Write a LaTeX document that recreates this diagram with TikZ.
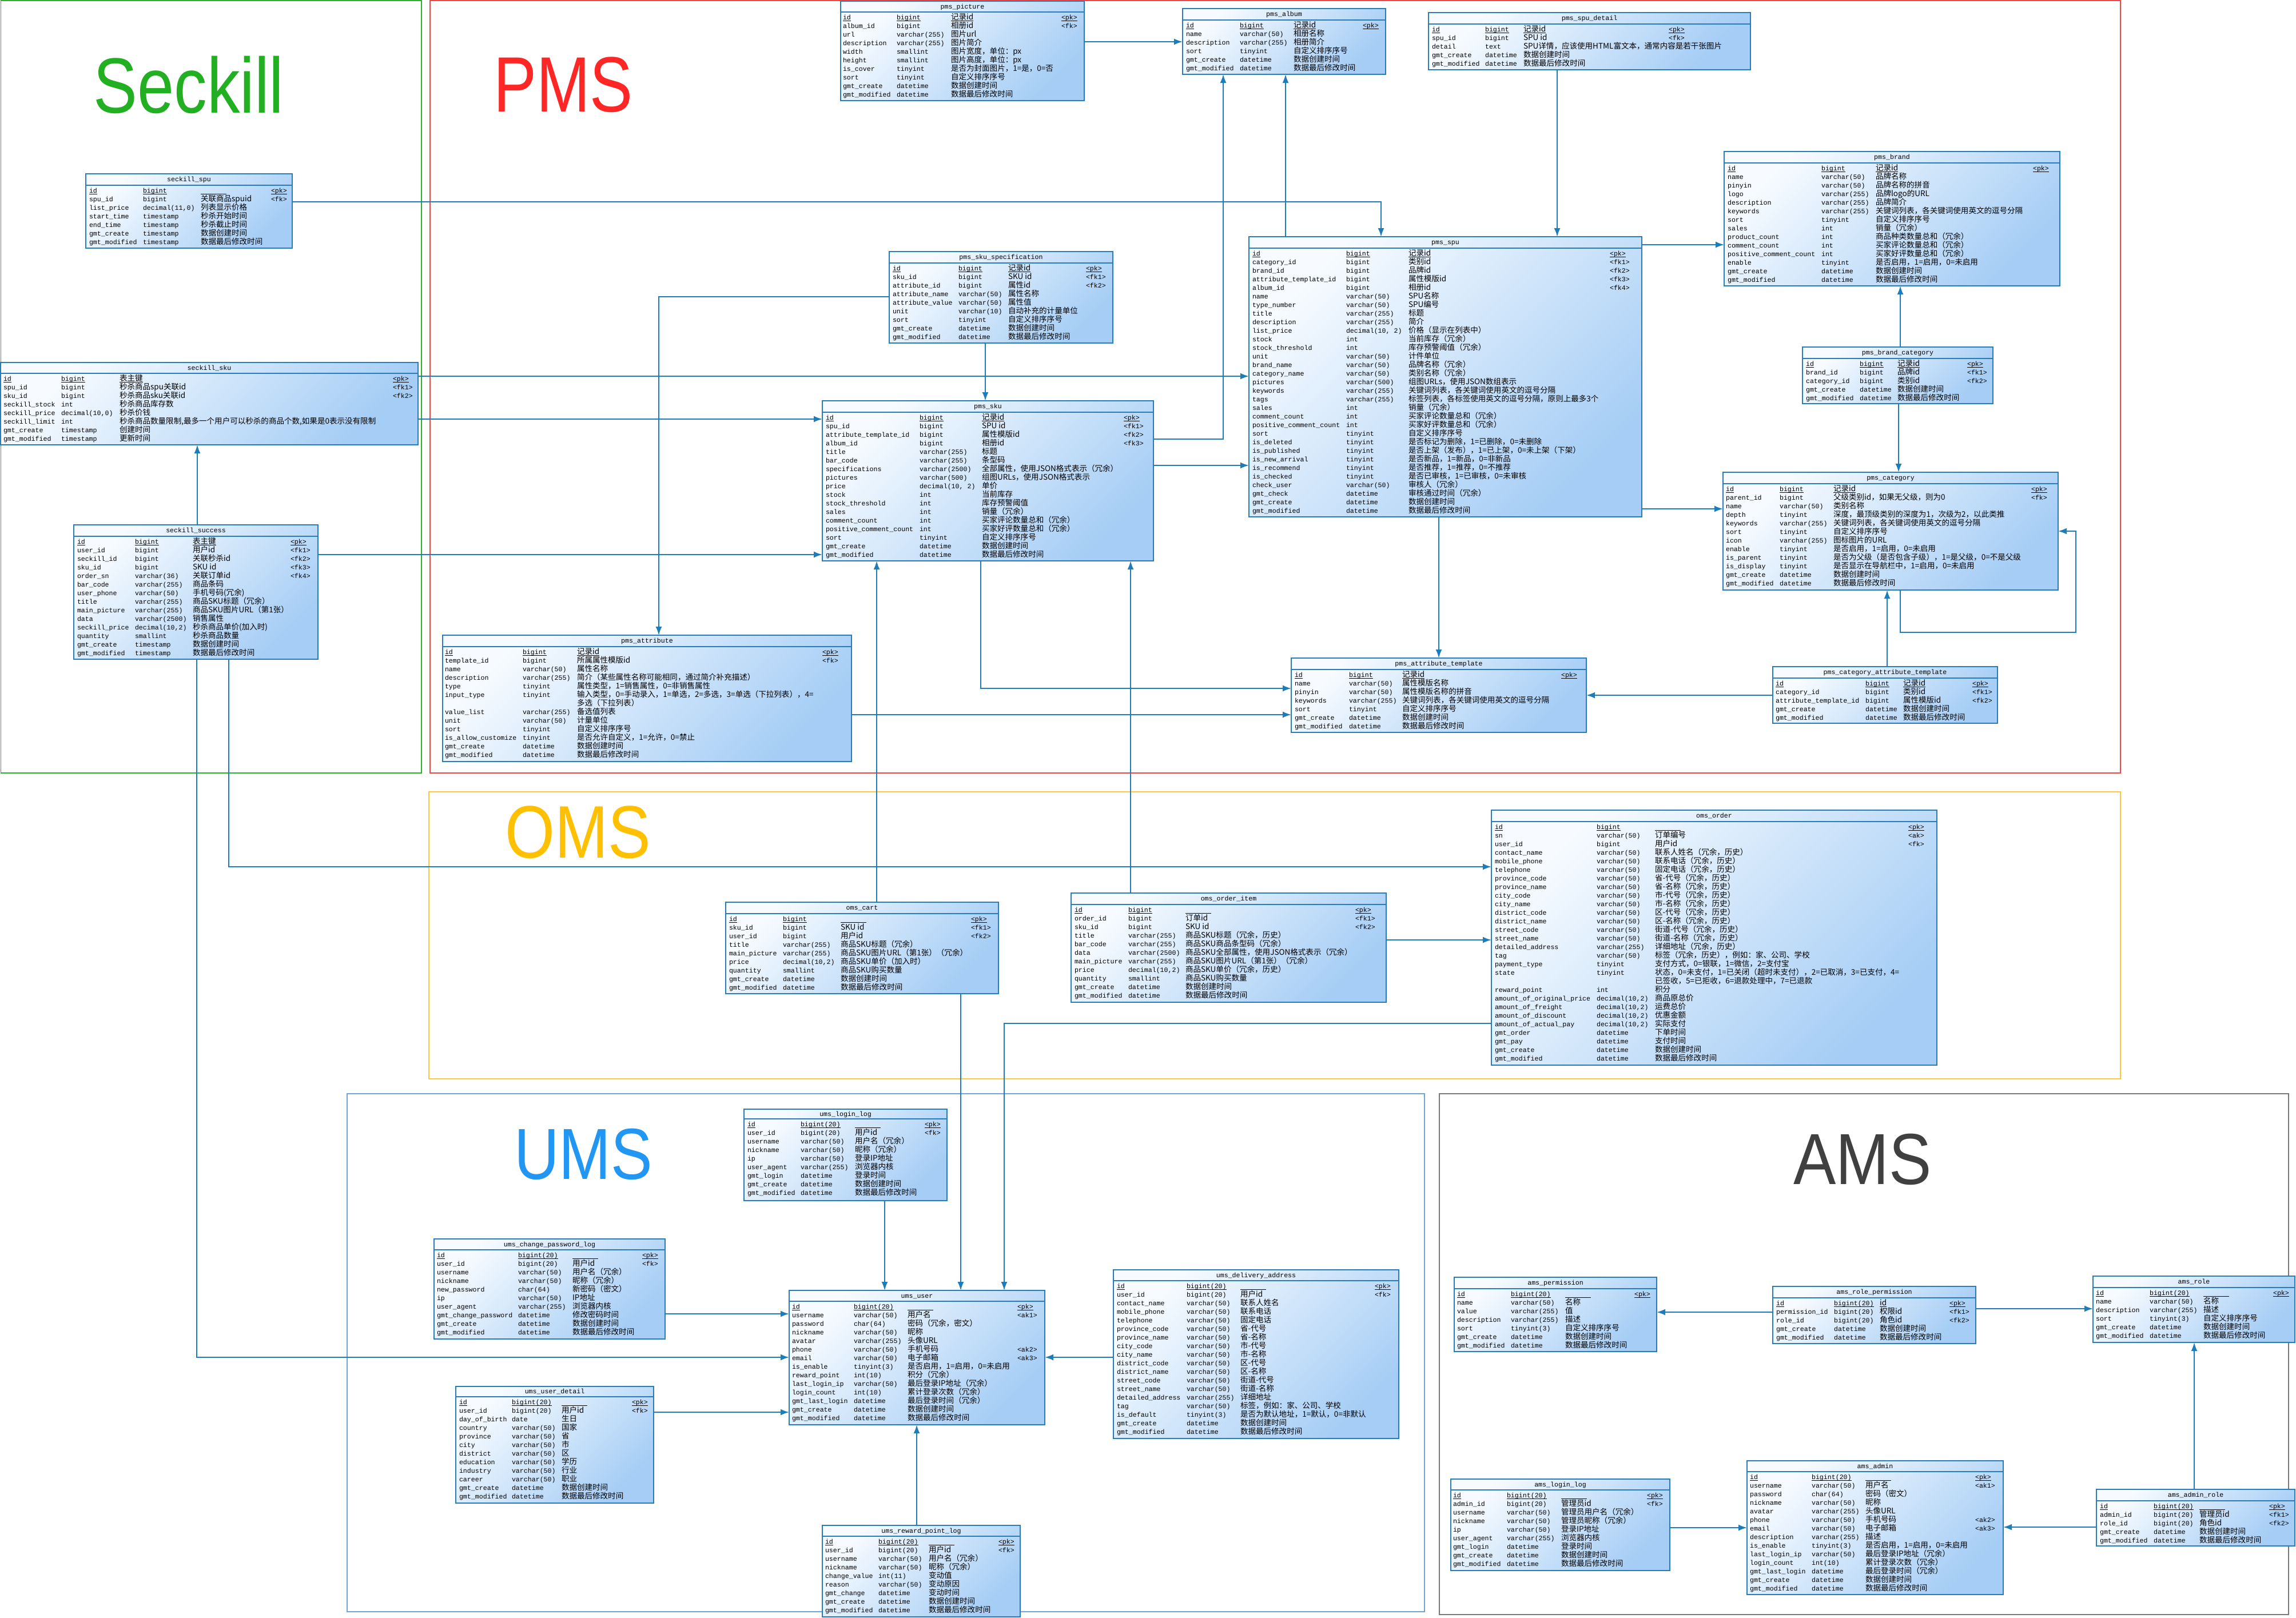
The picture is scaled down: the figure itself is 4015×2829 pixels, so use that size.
\documentclass[tikz,border=0pt]{standalone}
\usepackage{fontspec}
\usepackage{graphicx}
\usetikzlibrary{arrows.meta}
\newfontfamily\erlatfam{Liberation Mono}
\newfontfamily\ercjkfam{Noto Sans CJK SC}
\newfontfamily\biglabelfam{Liberation Sans}
\definecolor{erlight}{RGB}{247,251,255}
\definecolor{erdark}{RGB}{165,205,245}
\definecolor{erborder}{RGB}{40,125,185}
\definecolor{erline}{RGB}{30,125,185}
\definecolor{secgreen}{RGB}{34,175,34}
\definecolor{pmsred}{RGB}{255,38,38}
\definecolor{omsorange}{RGB}{255,192,0}
\definecolor{umsblue}{RGB}{33,150,243}
\definecolor{amsgray}{RGB}{64,64,64}
\definecolor{frgreen}{RGB}{40,180,40}
\definecolor{frred}{RGB}{240,70,70}
\definecolor{frorange}{RGB}{255,200,60}
\definecolor{frblue}{RGB}{110,165,210}
\definecolor{frgray}{RGB}{120,120,120}
\newcommand\erlat{\erlatfam\fontsize{3.3}{4}\selectfont}
\newcommand\ercjk{\ercjkfam\fontsize{3.85}{4.5}\selectfont}
\newcommand\erblank{\hspace{0.45cm}}
\newsavebox\erulbox
\newcommand\erul[1]{\sbox\erulbox{#1}\rlap{\rule[-0.5pt]{\wd\erulbox}{0.18pt}}\usebox\erulbox}
\tikzset{
  erbox/.style={draw=erborder, line width=0.55pt, inner sep=0pt, outer sep=0pt,
    left color=erlight, right color=erdark, shading angle=45},
  ertext/.style={inner sep=0pt, outer sep=0pt, anchor=base west},
  ertitle/.style={inner sep=0pt, outer sep=0pt, anchor=base},
  fk/.style={draw=erline, line width=0.55pt, -{Latex[length=1.5mm,width=1.1mm]}},
  frame/.style={line width=0.45pt},
  biglabel/.style={inner sep=0pt, anchor=base}
}
\def\erparseA#1,#2,#3,#4,#5\relax{\def\erxa{#1}\def\erya{#2}\def\erxb{#3}\def\eryb{#4}\def\erhd{#5}}
\def\erparseB#1,#2,#3,#4\relax{\def\ernx{#1}\def\ertx{#2}\def\ercx{#3}\def\erkx{#4}}
\newcommand\ertable[3]{%
  \def\ertname{#1}\def\erri{0}%
  \erparseA#2\relax\erparseB#3\relax
  \pgfmathsetmacro\erw{(\erxb-\erxa)*0.01}%
  \pgfmathsetmacro\erh{(\eryb-\erya)*0.01}%
  \node[erbox, minimum width=\erw cm, minimum height=\erh cm, anchor=north west] (#1) at (\erxa,\erya) {};%
  \draw[draw=erborder, line width=0.55pt] (\erxa,\erhd) -- (\erxb,\erhd);%
  \pgfmathsetmacro\ertitlex{(\erxa+\erxb)/2}%
  \pgfmathsetmacro\ertitley{(\erya+\erhd)/2+3.8}%
  \node[ertitle] (#1-title) at (\ertitlex,\ertitley) {\erlat #1};%
  \pgfmathsetmacro\errowy{\erhd+13.5}%
}
\newcommand\er[4]{%
  \pgfmathtruncatemacro\erri{\erri+1}%
  \node[ertext] (\ertname-\erri-a) at (\ernx,\errowy) {\erlat #1};%
  \node[ertext] (\ertname-\erri-b) at (\ertx,\errowy) {\erlat #2};%
  \node[ertext] (\ertname-\erri-c) at (\ercx,\errowy) {\ercjk #3};%
  \node[ertext] (\ertname-\erri-d) at (\erkx,\errowy) {\erlat #4};%
  \pgfmathsetmacro\errowy{\errowy+15}%
}
\newcommand\erpk[4]{%
  \pgfmathtruncatemacro\erri{\erri+1}%
  \node[ertext] (\ertname-\erri-a) at (\ernx,\errowy) {\erlat\erul{#1}};%
  \node[ertext] (\ertname-\erri-b) at (\ertx,\errowy) {\erlat\erul{#2}};%
  \node[ertext] (\ertname-\erri-c) at (\ercx,\errowy) {\ercjk\erul{#3}};%
  \node[ertext] (\ertname-\erri-d) at (\erkx,\errowy) {\erlat\erul{#4}};%
  \pgfmathsetmacro\errowy{\errowy+15}%
}
\catcode`\_=12
\begin{document}
\begin{tikzpicture}[x=0.01cm, y=-0.01cm]
\useasboundingbox (0,0) rectangle (4015,2829);
\fill[white] (0,0) rectangle (4015,2829);

% ---------- group frames ----------
\draw[frame, draw=frgreen] (1.5,0.8) rectangle (737,1352);
\draw[frame, draw=frred] (752,0.8) rectangle (3708,1352);
\draw[frame, draw=frorange] (750,1385) rectangle (3708,1887);
\draw[frame, draw=frblue] (607,1913) rectangle (2491,2819);
\draw[frame, draw=frgray] (2517,1913) rectangle (4002,2824);

% ---------- group labels ----------
\node[biglabel] (lblseckill) at (330,197) {\biglabelfam\fontsize{39}{42}\selectfont\color{secgreen}\scalebox{0.84}[1]{Seckill}};
\node[biglabel] (lblpms) at (985,195) {\biglabelfam\fontsize{39}{42}\selectfont\color{pmsred}\scalebox{0.82}[1]{PMS}};
\node[biglabel] (lbloms) at (1011,1500) {\biglabelfam\fontsize{37}{40}\selectfont\color{omsorange}\scalebox{0.86}[1]{OMS}};
\node[biglabel] (lblums) at (1020,2062) {\biglabelfam\fontsize{36}{40}\selectfont\color{umsblue}\scalebox{0.86}[1]{UMS}};
\node[biglabel] (lblams) at (3257,2071) {\biglabelfam\fontsize{36}{40}\selectfont\color{amsgray}\scalebox{0.88}[1]{AMS}};

% ================= Seckill =================
\ertable{seckill_spu}{150,304,511,434,324}{156,250,351,474}
\erpk{id}{bigint}{\erblank}{<pk>}
\er{spu_id}{bigint}{关联商品spuid}{<fk>}
\er{list_price}{decimal(11,0)}{列表显示价格}{}
\er{start_time}{timestamp}{秒杀开始时间}{}
\er{end_time}{timestamp}{秒杀截止时间}{}
\er{gmt_create}{timestamp}{数据创建时间}{}
\er{gmt_modified}{timestamp}{数据最后修改时间}{}

\ertable{seckill_sku}{1,634,731,778,653}{6,107,209,687}
\erpk{id}{bigint}{表主键}{<pk>}
\er{spu_id}{bigint}{秒杀商品spu关联id}{<fk1>}
\er{sku_id}{bigint}{秒杀商品sku关联id}{<fk2>}
\er{seckill_stock}{int}{秒杀商品库存数}{}
\er{seckill_price}{decimal(10,0)}{秒杀价钱}{}
\er{seckill_limit}{int}{秒杀商品数量限制,最多一个用户可以秒杀的商品个数,如果是0表示没有限制}{}
\er{gmt_create}{timestamp}{创建时间}{}
\er{gmt_modified}{timestamp}{更新时间}{}

\ertable{seckill_success}{129,918,556,1153,938}{135,236,337,508}
\erpk{id}{bigint}{表主键}{<pk>}
\er{user_id}{bigint}{用户id}{<fk1>}
\er{seckill_id}{bigint}{关联秒杀id}{<fk2>}
\er{sku_id}{bigint}{SKU id}{<fk3>}
\er{order_sn}{varchar(36)}{关联订单id}{<fk4>}
\er{bar_code}{varchar(255)}{商品条码}{}
\er{user_phone}{varchar(50)}{手机号码(冗余)}{}
\er{title}{varchar(255)}{商品SKU标题（冗余）}{}
\er{main_picture}{varchar(255)}{商品SKU图片URL（第1张）}{}
\er{data}{varchar(2500)}{销售属性}{}
\er{seckill_price}{decimal(10,2)}{秒杀商品单价(加入时)}{}
\er{quantity}{smallint}{秒杀商品数量}{}
\er{gmt_create}{timestamp}{数据创建时间}{}
\er{gmt_modified}{timestamp}{数据最后修改时间}{}

% ================= PMS =================
\ertable{pms_picture}{1470,2,1896,176,21}{1474,1568,1663,1856}
\erpk{id}{bigint}{记录id}{<pk>}
\er{album_id}{bigint}{相册id}{<fk>}
\er{url}{varchar(255)}{图片url}{}
\er{description}{varchar(255)}{图片简介}{}
\er{width}{smallint}{图片宽度，单位：px}{}
\er{height}{smallint}{图片高度，单位：px}{}
\er{is_cover}{tinyint}{是否为封面图片，1=是，0=否}{}
\er{sort}{tinyint}{自定义排序序号}{}
\er{gmt_create}{datetime}{数据创建时间}{}
\er{gmt_modified}{datetime}{数据最后修改时间}{}

\ertable{pms_album}{2068,15,2423,130,35}{2074,2168,2262,2383}
\erpk{id}{bigint}{记录id}{<pk>}
\er{name}{varchar(50)}{相册名称}{}
\er{description}{varchar(255)}{相册简介}{}
\er{sort}{tinyint}{自定义排序序号}{}
\er{gmt_create}{datetime}{数据创建时间}{}
\er{gmt_modified}{datetime}{数据最后修改时间}{}

\ertable{pms_spu_detail}{2498,22,3061,122,42}{2504,2597,2664,2918}
\erpk{id}{bigint}{记录id}{<pk>}
\er{spu_id}{bigint}{SPU id}{<fk>}
\er{detail}{text}{SPU详情，应该使用HTML富文本，通常内容是若干张图片}{}
\er{gmt_create}{datetime}{数据创建时间}{}
\er{gmt_modified}{datetime}{数据最后修改时间}{}

\ertable{pms_brand}{3015,265,3602,500,285}{3021,3185,3280,3555}
\erpk{id}{bigint}{记录id}{<pk>}
\er{name}{varchar(50)}{品牌名称}{}
\er{pinyin}{varchar(50)}{品牌名称的拼音}{}
\er{logo}{varchar(255)}{品牌logo的URL}{}
\er{description}{varchar(255)}{品牌简介}{}
\er{keywords}{varchar(255)}{关键词列表，各关键词使用英文的逗号分隔}{}
\er{sort}{tinyint}{自定义排序序号}{}
\er{sales}{int}{销量（冗余）}{}
\er{product_count}{int}{商品种类数量总和（冗余）}{}
\er{comment_count}{int}{买家评论数量总和（冗余）}{}
\er{positive_comment_count}{int}{买家好评数量总和（冗余）}{}
\er{enable}{tinyint}{是否启用，1=启用，0=未启用}{}
\er{gmt_create}{datetime}{数据创建时间}{}
\er{gmt_modified}{datetime}{数据最后修改时间}{}

\ertable{pms_brand_category}{3152,607,3485,706,627}{3158,3252,3318,3440}
\erpk{id}{bigint}{记录id}{<pk>}
\er{brand_id}{bigint}{品牌id}{<fk1>}
\er{category_id}{bigint}{类别id}{<fk2>}
\er{gmt_create}{datetime}{数据创建时间}{}
\er{gmt_modified}{datetime}{数据最后修改时间}{}

\ertable{pms_category}{3013,826,3599,1032,846}{3018,3112,3206,3552}
\erpk{id}{bigint}{记录id}{<pk>}
\er{parent_id}{bigint}{父级类别id，如果无父级，则为0}{<fk>}
\er{name}{varchar(50)}{类别名称}{}
\er{depth}{tinyint}{深度，最顶级类别的深度为1，次级为2，以此类推}{}
\er{keywords}{varchar(255)}{关键词列表，各关键词使用英文的逗号分隔}{}
\er{sort}{tinyint}{自定义排序序号}{}
\er{icon}{varchar(255)}{图标图片的URL}{}
\er{enable}{tinyint}{是否启用，1=启用，0=未启用}{}
\er{is_parent}{tinyint}{是否为父级（是否包含子级），1=是父级，0=不是父级}{}
\er{is_display}{tinyint}{是否显示在导航栏中，1=启用，0=未启用}{}
\er{gmt_create}{datetime}{数据创建时间}{}
\er{gmt_modified}{datetime}{数据最后修改时间}{}

\ertable{pms_sku_specification}{1555,440,1946,600,460}{1561,1676,1763,1899}
\erpk{id}{bigint}{记录id}{<pk>}
\er{sku_id}{bigint}{SKU id}{<fk1>}
\er{attribute_id}{bigint}{属性id}{<fk2>}
\er{attribute_name}{varchar(50)}{属性名称}{}
\er{attribute_value}{varchar(50)}{属性值}{}
\er{unit}{varchar(10)}{自动补充的计量单位}{}
\er{sort}{tinyint}{自定义排序序号}{}
\er{gmt_create}{datetime}{数据创建时间}{}
\er{gmt_modified}{datetime}{数据最后修改时间}{}

\ertable{pms_spu}{2184,414,2871,904,434}{2190,2354,2463,2815}
\erpk{id}{bigint}{记录id}{<pk>}
\er{category_id}{bigint}{类别id}{<fk1>}
\er{brand_id}{bigint}{品牌id}{<fk2>}
\er{attribute_template_id}{bigint}{属性模版id}{<fk3>}
\er{album_id}{bigint}{相册id}{<fk4>}
\er{name}{varchar(50)}{SPU名称}{}
\er{type_number}{varchar(50)}{SPU编号}{}
\er{title}{varchar(255)}{标题}{}
\er{description}{varchar(255)}{简介}{}
\er{list_price}{decimal(10, 2)}{价格（显示在列表中）}{}
\er{stock}{int}{当前库存（冗余）}{}
\er{stock_threshold}{int}{库存预警阈值（冗余）}{}
\er{unit}{varchar(50)}{计件单位}{}
\er{brand_name}{varchar(50)}{品牌名称（冗余）}{}
\er{category_name}{varchar(50)}{类别名称（冗余）}{}
\er{pictures}{varchar(500)}{组图URLs，使用JSON数组表示}{}
\er{keywords}{varchar(255)}{关键词列表，各关键词使用英文的逗号分隔}{}
\er{tags}{varchar(255)}{标签列表，各标签使用英文的逗号分隔，原则上最多3个}{}
\er{sales}{int}{销量（冗余）}{}
\er{comment_count}{int}{买家评论数量总和（冗余）}{}
\er{positive_comment_count}{int}{买家好评数量总和（冗余）}{}
\er{sort}{tinyint}{自定义排序序号}{}
\er{is_deleted}{tinyint}{是否标记为删除，1=已删除，0=未删除}{}
\er{is_published}{tinyint}{是否上架（发布），1=已上架，0=未上架（下架）}{}
\er{is_new_arrival}{tinyint}{是否新品，1=新品，0=非新品}{}
\er{is_recommend}{tinyint}{是否推荐，1=推荐，0=不推荐}{}
\er{is_checked}{tinyint}{是否已审核，1=已审核，0=未审核}{}
\er{check_user}{varchar(50)}{审核人（冗余）}{}
\er{gmt_check}{datetime}{审核通过时间（冗余）}{}
\er{gmt_create}{datetime}{数据创建时间}{}
\er{gmt_modified}{datetime}{数据最后修改时间}{}

\ertable{pms_sku}{1438,701,2017,981,721}{1444,1608,1717,1965}
\erpk{id}{bigint}{记录id}{<pk>}
\er{spu_id}{bigint}{SPU id}{<fk1>}
\er{attribute_template_id}{bigint}{属性模版id}{<fk2>}
\er{album_id}{bigint}{相册id}{<fk3>}
\er{title}{varchar(255)}{标题}{}
\er{bar_code}{varchar(255)}{条型码}{}
\er{specifications}{varchar(2500)}{全部属性，使用JSON格式表示（冗余）}{}
\er{pictures}{varchar(500)}{组图URLs，使用JSON格式表示}{}
\er{price}{decimal(10, 2)}{单价}{}
\er{stock}{int}{当前库存}{}
\er{stock_threshold}{int}{库存预警阈值}{}
\er{sales}{int}{销量（冗余）}{}
\er{comment_count}{int}{买家评论数量总和（冗余）}{}
\er{positive_comment_count}{int}{买家好评数量总和（冗余）}{}
\er{sort}{tinyint}{自定义排序序号}{}
\er{gmt_create}{datetime}{数据创建时间}{}
\er{gmt_modified}{datetime}{数据最后修改时间}{}

\ertable{pms_attribute}{774,1111,1489,1332,1131}{778,914,1009,1438}
\erpk{id}{bigint}{记录id}{<pk>}
\er{template_id}{bigint}{所属属性模版id}{<fk>}
\er{name}{varchar(50)}{属性名称}{}
\er{description}{varchar(255)}{简介（某些属性名称可能相同，通过简介补充描述）}{}
\er{type}{tinyint}{属性类型，1=销售属性，0=非销售属性}{}
\er{input_type}{tinyint}{输入类型，0=手动录入，1=单选，2=多选，3=单选（下拉列表），4=}{}
\er{}{}{多选（下拉列表）}{}
\er{value_list}{varchar(255)}{备选值列表}{}
\er{unit}{varchar(50)}{计量单位}{}
\er{sort}{tinyint}{自定义排序序号}{}
\er{is_allow_customize}{tinyint}{是否允许自定义，1=允许，0=禁止}{}
\er{gmt_create}{datetime}{数据创建时间}{}
\er{gmt_modified}{datetime}{数据最后修改时间}{}

\ertable{pms_attribute_template}{2258,1151,2774,1281,1171}{2264,2359,2452,2730}
\erpk{id}{bigint}{记录id}{<pk>}
\er{name}{varchar(50)}{属性模版名称}{}
\er{pinyin}{varchar(50)}{属性模版名称的拼音}{}
\er{keywords}{varchar(255)}{关键词列表，各关键词使用英文的逗号分隔}{}
\er{sort}{tinyint}{自定义排序序号}{}
\er{gmt_create}{datetime}{数据创建时间}{}
\er{gmt_modified}{datetime}{数据最后修改时间}{}

\ertable{pms_category_attribute_template}{3100,1166,3493,1265,1186}{3105,3262,3328,3449}
\erpk{id}{bigint}{记录id}{<pk>}
\er{category_id}{bigint}{类别id}{<fk1>}
\er{attribute_template_id}{bigint}{属性模版id}{<fk2>}
\er{gmt_create}{datetime}{数据创建时间}{}
\er{gmt_modified}{datetime}{数据最后修改时间}{}

% ================= OMS =================
\ertable{oms_cart}{1269,1578,1746,1738,1598}{1275,1369,1470,1698}
\erpk{id}{bigint}{\erblank}{<pk>}
\er{sku_id}{bigint}{SKU id}{<fk1>}
\er{user_id}{bigint}{用户id}{<fk2>}
\er{title}{varchar(255)}{商品SKU标题（冗余）}{}
\er{main_picture}{varchar(255)}{商品SKU图片URL（第1张）（冗余）}{}
\er{price}{decimal(10,2)}{商品SKU单价（加入时）}{}
\er{quantity}{smallint}{商品SKU购买数量}{}
\er{gmt_create}{datetime}{数据创建时间}{}
\er{gmt_modified}{datetime}{数据最后修改时间}{}

\ertable{oms_order_item}{1873,1562,2424,1753,1582}{1879,1973,2073,2370}
\erpk{id}{bigint}{\erblank}{<pk>}
\er{order_id}{bigint}{订单id}{<fk1>}
\er{sku_id}{bigint}{SKU id}{<fk2>}
\er{title}{varchar(255)}{商品SKU标题（冗余，历史）}{}
\er{bar_code}{varchar(255)}{商品SKU商品条型码（冗余）}{}
\er{data}{varchar(2500)}{商品SKU全部属性，使用JSON格式表示（冗余）}{}
\er{main_picture}{varchar(255)}{商品SKU图片URL（第1张）（冗余）}{}
\er{price}{decimal(10,2)}{商品SKU单价（冗余，历史）}{}
\er{quantity}{smallint}{商品SKU购买数量}{}
\er{gmt_create}{datetime}{数据创建时间}{}
\er{gmt_modified}{datetime}{数据最后修改时间}{}

\ertable{oms_order}{2608,1417,3387,1863,1437}{2614,2792,2894,3337}
\erpk{id}{bigint}{\erblank}{<pk>}
\er{sn}{varchar(50)}{订单编号}{<ak>}
\er{user_id}{bigint}{用户id}{<fk>}
\er{contact_name}{varchar(50)}{联系人姓名（冗余，历史）}{}
\er{mobile_phone}{varchar(50)}{联系电话（冗余，历史）}{}
\er{telephone}{varchar(50)}{固定电话（冗余，历史）}{}
\er{province_code}{varchar(50)}{省-代号（冗余，历史）}{}
\er{province_name}{varchar(50)}{省-名称（冗余，历史）}{}
\er{city_code}{varchar(50)}{市-代号（冗余，历史）}{}
\er{city_name}{varchar(50)}{市-名称（冗余，历史）}{}
\er{district_code}{varchar(50)}{区-代号（冗余，历史）}{}
\er{district_name}{varchar(50)}{区-名称（冗余，历史）}{}
\er{street_code}{varchar(50)}{街道-代号（冗余，历史）}{}
\er{street_name}{varchar(50)}{街道-名称（冗余，历史）}{}
\er{detailed_address}{varchar(255)}{详细地址（冗余，历史）}{}
\er{tag}{varchar(50)}{标签（冗余，历史），例如：家、公司、学校}{}
\er{payment_type}{tinyint}{支付方式，0=银联，1=微信，2=支付宝}{}
\er{state}{tinyint}{状态，0=未支付，1=已关闭（超时未支付），2=已取消，3=已支付，4=}{}
\er{}{}{已签收，5=已拒收，6=退款处理中，7=已退款}{}
\er{reward_point}{int}{积分}{}
\er{amount_of_original_price}{decimal(10,2)}{商品原总价}{}
\er{amount_of_freight}{decimal(10,2)}{运费总价}{}
\er{amount_of_discount}{decimal(10,2)}{优惠金额}{}
\er{amount_of_actual_pay}{decimal(10,2)}{实际支付}{}
\er{gmt_order}{datetime}{下单时间}{}
\er{gmt_pay}{datetime}{支付时间}{}
\er{gmt_create}{datetime}{数据创建时间}{}
\er{gmt_modified}{datetime}{数据最后修改时间}{}

% ================= UMS =================
\ertable{ums_login_log}{1301,1940,1656,2100,1957}{1307,1400,1495,1617}
\erpk{id}{bigint(20)}{\erblank}{<pk>}
\er{user_id}{bigint(20)}{用户id}{<fk>}
\er{username}{varchar(50)}{用户名（冗余）}{}
\er{nickname}{varchar(50)}{昵称（冗余）}{}
\er{ip}{varchar(50)}{登录IP地址}{}
\er{user_agent}{varchar(255)}{浏览器内核}{}
\er{gmt_login}{datetime}{登录时间}{}
\er{gmt_create}{datetime}{数据创建时间}{}
\er{gmt_modified}{datetime}{数据最后修改时间}{}

\ertable{ums_change_password_log}{759,2167,1163,2342,2186}{764,906,1001,1123}
\erpk{id}{bigint(20)}{\erblank}{<pk>}
\er{user_id}{bigint(20)}{用户id}{<fk>}
\er{username}{varchar(50)}{用户名（冗余）}{}
\er{nickname}{varchar(50)}{昵称（冗余）}{}
\er{new_password}{char(64)}{新密码（密文）}{}
\er{ip}{varchar(50)}{IP地址}{}
\er{user_agent}{varchar(255)}{浏览器内核}{}
\er{gmt_change_password}{datetime}{修改密码时间}{}
\er{gmt_create}{datetime}{数据创建时间}{}
\er{gmt_modified}{datetime}{数据最后修改时间}{}

\ertable{ums_user}{1380,2257,1827,2492,2276}{1385,1493,1587,1779}
\erpk{id}{bigint(20)}{\erblank}{<pk>}
\er{username}{varchar(50)}{用户名}{<ak1>}
\er{password}{char(64)}{密码（冗余，密文）}{}
\er{nickname}{varchar(50)}{昵称}{}
\er{avatar}{varchar(255)}{头像URL}{}
\er{phone}{varchar(50)}{手机号码}{<ak2>}
\er{email}{varchar(50)}{电子邮箱}{<ak3>}
\er{is_enable}{tinyint(3)}{是否启用，1=启用，0=未启用}{}
\er{reward_point}{int(10)}{积分（冗余）}{}
\er{last_login_ip}{varchar(50)}{最后登录IP地址（冗余）}{}
\er{login_count}{int(10)}{累计登录次数（冗余）}{}
\er{gmt_last_login}{datetime}{最后登录时间（冗余）}{}
\er{gmt_create}{datetime}{数据创建时间}{}
\er{gmt_modified}{datetime}{数据最后修改时间}{}

\ertable{ums_user_detail}{797,2425,1143,2629,2443}{803,895,982,1105}
\erpk{id}{bigint(20)}{\erblank}{<pk>}
\er{user_id}{bigint(20)}{用户id}{<fk>}
\er{day_of_birth}{date}{生日}{}
\er{country}{varchar(50)}{国家}{}
\er{province}{varchar(50)}{省}{}
\er{city}{varchar(50)}{市}{}
\er{district}{varchar(50)}{区}{}
\er{education}{varchar(50)}{学历}{}
\er{industry}{varchar(50)}{行业}{}
\er{career}{varchar(50)}{职业}{}
\er{gmt_create}{datetime}{数据创建时间}{}
\er{gmt_modified}{datetime}{数据最后修改时间}{}

\ertable{ums_delivery_address}{1947,2221,2446,2516,2240}{1953,2075,2169,2404}
\erpk{id}{bigint(20)}{\erblank}{<pk>}
\er{user_id}{bigint(20)}{用户id}{<fk>}
\er{contact_name}{varchar(50)}{联系人姓名}{}
\er{mobile_phone}{varchar(50)}{联系电话}{}
\er{telephone}{varchar(50)}{固定电话}{}
\er{province_code}{varchar(50)}{省-代号}{}
\er{province_name}{varchar(50)}{省-名称}{}
\er{city_code}{varchar(50)}{市-代号}{}
\er{city_name}{varchar(50)}{市-名称}{}
\er{district_code}{varchar(50)}{区-代号}{}
\er{district_name}{varchar(50)}{区-名称}{}
\er{street_code}{varchar(50)}{街道-代号}{}
\er{street_name}{varchar(50)}{街道-名称}{}
\er{detailed_address}{varchar(255)}{详细地址}{}
\er{tag}{varchar(50)}{标签，例如：家、公司、学校}{}
\er{is_default}{tinyint(3)}{是否为默认地址，1=默认，0=非默认}{}
\er{gmt_create}{datetime}{数据创建时间}{}
\er{gmt_modified}{datetime}{数据最后修改时间}{}

\ertable{ums_reward_point_log}{1438,2668,1784,2828,2687}{1443,1536,1624,1746}
\erpk{id}{bigint(20)}{\erblank}{<pk>}
\er{user_id}{bigint(20)}{用户id}{<fk>}
\er{username}{varchar(50)}{用户名（冗余）}{}
\er{nickname}{varchar(50)}{昵称（冗余）}{}
\er{change_value}{int(11)}{变动值}{}
\er{reason}{varchar(50)}{变动原因}{}
\er{gmt_change}{datetime}{变动时间}{}
\er{gmt_create}{datetime}{数据创建时间}{}
\er{gmt_modified}{datetime}{数据最后修改时间}{}

% ================= AMS =================
\ertable{ams_permission}{2543,2234,2897,2364,2254}{2548,2642,2737,2858}
\erpk{id}{bigint(20)}{\erblank}{<pk>}
\er{name}{varchar(50)}{名称}{}
\er{value}{varchar(255)}{值}{}
\er{description}{varchar(255)}{描述}{}
\er{sort}{tinyint(3)}{自定义排序序号}{}
\er{gmt_create}{datetime}{数据创建时间}{}
\er{gmt_modified}{datetime}{数据最后修改时间}{}

\ertable{ams_role_permission}{3100,2250,3455,2350,2270}{3106,3207,3287,3409}
\erpk{id}{bigint(20)}{id}{<pk>}
\er{permission_id}{bigint(20)}{权限id}{<fk1>}
\er{role_id}{bigint(20)}{角色id}{<fk2>}
\er{gmt_create}{datetime}{数据创建时间}{}
\er{gmt_modified}{datetime}{数据最后修改时间}{}

\ertable{ams_role}{3660,2232,4013,2348,2252}{3665,3759,3853,3975}
\erpk{id}{bigint(20)}{\erblank}{<pk>}
\er{name}{varchar(50)}{名称}{}
\er{description}{varchar(255)}{描述}{}
\er{sort}{tinyint(3)}{自定义排序序号}{}
\er{gmt_create}{datetime}{数据创建时间}{}
\er{gmt_modified}{datetime}{数据最后修改时间}{}

\ertable{ams_login_log}{2537,2587,2920,2747,2606}{2541,2635,2730,2880}
\erpk{id}{bigint(20)}{\erblank}{<pk>}
\er{admin_id}{bigint(20)}{管理员id}{<fk>}
\er{username}{varchar(50)}{管理员用户名（冗余）}{}
\er{nickname}{varchar(50)}{管理员昵称（冗余）}{}
\er{ip}{varchar(50)}{登录IP地址}{}
\er{user_agent}{varchar(255)}{浏览器内核}{}
\er{gmt_login}{datetime}{登录时间}{}
\er{gmt_create}{datetime}{数据创建时间}{}
\er{gmt_modified}{datetime}{数据最后修改时间}{}

\ertable{ams_admin}{3055,2555,3503,2789,2574}{3060,3168,3262,3454}
\erpk{id}{bigint(20)}{\erblank}{<pk>}
\er{username}{varchar(50)}{用户名}{<ak1>}
\er{password}{char(64)}{密码（密文）}{}
\er{nickname}{varchar(50)}{昵称}{}
\er{avatar}{varchar(255)}{头像URL}{}
\er{phone}{varchar(50)}{手机号码}{<ak2>}
\er{email}{varchar(50)}{电子邮箱}{<ak3>}
\er{description}{varchar(255)}{描述}{}
\er{is_enable}{tinyint(3)}{是否启用，1=启用，0=未启用}{}
\er{last_login_ip}{varchar(50)}{最后登录IP地址（冗余）}{}
\er{login_count}{int(10)}{累计登录次数（冗余）}{}
\er{gmt_last_login}{datetime}{最后登录时间（冗余）}{}
\er{gmt_create}{datetime}{数据创建时间}{}
\er{gmt_modified}{datetime}{数据最后修改时间}{}

\ertable{ams_admin_role}{3666,2605,4013,2704,2625}{3672,3766,3846,3968}
\erpk{id}{bigint(20)}{\erblank}{<pk>}
\er{admin_id}{bigint(20)}{管理员id}{<fk1>}
\er{role_id}{bigint(20)}{角色id}{<fk2>}
\er{gmt_create}{datetime}{数据创建时间}{}
\er{gmt_modified}{datetime}{数据最后修改时间}{}

% ================= connectors =================
\coordinate (catloop) at (3630,1106);
\draw[fk] (pms_picture.east |- 0,73) -- (pms_album.west |- 0,73);
\draw[fk] (pms_spu.north -| 2248,0) -- (pms_album.south -| 2248,0);
\draw[fk] (pms_sku.east |- 0,768) -| (pms_album.south -| 2139,0);
\draw[fk] (pms_spu_detail.south -| 2723,0) -- (pms_spu.north -| 2723,0);
\draw[fk] (seckill_spu.east |- 0,353) -| (pms_spu.north -| 2415,0);
\draw[fk] (seckill_sku.east |- 0,658) -- (pms_spu.west |- 0,658);
\draw[fk] (seckill_sku.east |- 0,733) -- (pms_sku.west |- 0,733);
\draw[fk] (seckill_success.east |- 0,970) -- (pms_sku.west |- 0,970);
\draw[fk] (seckill_success.north -| 345,0) -- (seckill_sku.south -| 345,0);
\draw[fk] (seckill_success.south -| 344,0) |- (ums_user.west |- 0,2374);
\draw[fk] (seckill_success.south -| 400,0) |- (oms_order.west |- 0,1516);
\draw[fk] (pms_sku.east |- 0,814) -- (pms_spu.west |- 0,814);
\draw[fk] (pms_sku_specification.south -| 1723,0) -- (pms_sku.north -| 1723,0);
\draw[fk] (pms_sku_specification.west |- 0,519) -| (pms_attribute.north -| 1152,0);
\draw[fk] (pms_sku.south -| 1715,0) |- (pms_attribute_template.west |- 0,1204);
\draw[fk] (pms_attribute.east |- 0,1250) -- (pms_attribute_template.west |- 0,1250);
\draw[fk] (pms_spu.south -| 2516,0) -- (pms_attribute_template.north -| 2516,0);
\draw[fk] (pms_category_attribute_template.west |- 0,1216) -- (pms_attribute_template.east |- 0,1216);
\draw[fk] (pms_category_attribute_template.north -| 3300,0) -- (pms_category.south -| 3300,0);
\draw[fk] (pms_spu.east |- 0,428) -- (pms_brand.west |- 0,428);
\draw[fk] (pms_spu.east |- 0,890) -- (pms_category.west |- 0,890);
\draw[fk] (pms_brand_category.north -| 3323,0) -- (pms_brand.south -| 3323,0);
\draw[fk] (pms_brand_category.south -| 3320,0) -- (pms_category.north -| 3320,0);
\draw[fk] (pms_category.south -| 3323,0) |- (catloop) |- (pms_category.east |- 0,929);
\draw[fk] (oms_cart.north -| 1533,0) -- (pms_sku.south -| 1533,0);
\draw[fk] (oms_cart.south -| 1680,0) -- (ums_user.north -| 1680,0);
\draw[fk] (oms_order_item.north -| 1977,0) -- (pms_sku.south -| 1977,0);
\draw[fk] (oms_order_item.east |- 0,1644) -- (oms_order.west |- 0,1644);
\draw[fk] (oms_order.west |- 0,1790) -| (ums_user.north -| 1756,0);
\draw[fk] (ums_login_log.south -| 1547,0) -- (ums_user.north -| 1547,0);
\draw[fk] (ums_change_password_log.east |- 0,2298) -- (ums_user.west |- 0,2298);
\draw[fk] (ums_user_detail.east |- 0,2470) -- (ums_user.west |- 0,2470);
\draw[fk] (ums_delivery_address.west |- 0,2374) -- (ums_user.east |- 0,2374);
\draw[fk] (ums_reward_point_log.north -| 1603,0) -- (ums_user.south -| 1603,0);
\draw[fk] (ams_role_permission.west |- 0,2295) -- (ams_permission.east |- 0,2295);
\draw[fk] (ams_role_permission.east |- 0,2289) -- (ams_role.west |- 0,2289);
\draw[fk] (ams_login_log.east |- 0,2672) -- (ams_admin.west |- 0,2672);
\draw[fk] (ams_admin_role.west |- 0,2671) -- (ams_admin.east |- 0,2671);
\draw[fk] (ams_admin_role.north -| 3837,0) -- (ams_role.south -| 3837,0);
\end{tikzpicture}
\end{document}
